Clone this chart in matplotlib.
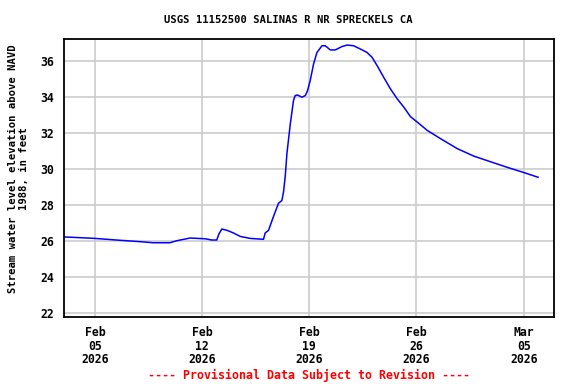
import numpy as np
import pandas as pd
import matplotlib
matplotlib.use("Agg")
import matplotlib.pyplot as plt
import matplotlib.dates as mdates

# dias desde 2026-02-05 00:00 y nivel (ft)
dias = [-1.98, -1.2, 0.0, 1.42, 2.94, 3.79, 4.9, 5.34, 6.21, 7.2, 7.63, 7.96,
        8.1, 8.29, 8.62, 9.05, 9.49, 10.14, 11.01, 11.12, 11.34, 11.66, 11.99,
        12.21, 12.32, 12.43, 12.54, 12.76, 12.97, 13.08, 13.23, 13.52, 13.74,
        13.87, 14.06, 14.28, 14.5, 14.83, 15.05, 15.37, 15.7, 16.14, 16.47,
        16.9, 17.34, 17.77, 18.1, 18.43, 18.86, 19.3, 19.74, 20.17, 20.61,
        21.05, 21.7, 22.57, 23.66, 24.75, 25.84, 26.93, 28.02, 28.94]
nivel = [26.23, 26.2, 26.15, 26.06, 25.97, 25.91, 25.91, 26.02, 26.17, 26.13,
         26.06, 26.06, 26.4, 26.67, 26.6, 26.45, 26.26, 26.15, 26.1, 26.45,
         26.6, 27.36, 28.1, 28.25, 28.74, 29.6, 30.86, 32.5, 33.8, 34.07,
         34.1, 33.98, 34.07, 34.3, 34.9, 35.82, 36.46, 36.83, 36.83, 36.6,
         36.6, 36.79, 36.87, 36.83, 36.65, 36.46, 36.19, 35.73, 35.08, 34.44,
         33.89, 33.43, 32.9, 32.6, 32.14, 31.68, 31.13, 30.71, 30.4, 30.09,
         29.8, 29.54]

ticks_x = ["2026-02-05", "2026-02-12", "2026-02-19", "2026-02-26", "2026-03-05"]
ticks_y = [22, 24, 26, 28, 30, 32, 34, 36]

titulo = "USGS 11152500 SALINAS R NR SPRECKELS CA"
etiqueta_y = "Stream water level elevation above NAVD\n1988, in feet"
aviso = "---- Provisional Data Subject to Revision ----"

fuente = "DejaVu Sans Mono"

fechas = pd.Timestamp("2026-02-05") + pd.to_timedelta(dias, unit="D")

fig = plt.figure(figsize=(5.76, 3.84), dpi=100)
ax = fig.add_axes([0.1116, 0.1753, 0.8507, 0.7224])
ax.plot(fechas, nivel, color="#0000ff", linewidth=1.1)

ax.set_xlim(pd.Timestamp("2026-02-03"), pd.Timestamp("2026-03-07"))
ax.set_ylim(21.81, 37.19)
ax.set_yticks(ticks_y)
ax.set_xticks(pd.to_datetime(ticks_x))
ax.xaxis.set_major_formatter(mdates.DateFormatter("%b\n%d\n%Y"))
ax.grid(True, color="#cccccc", linewidth=1.2)
ax.set_axisbelow(True)
ax.tick_params(length=0, pad=7)
for lab in ax.get_xticklabels() + ax.get_yticklabels():
    lab.set_fontfamily(fuente)
    lab.set_fontweight("bold")
    lab.set_fontsize(8.3)
    lab.set_linespacing(1.02)
for s in ax.spines.values():
    s.set_linewidth(1.3)

fig.text(0.5, 0.949, titulo, ha="center", va="center", fontfamily=fuente,
         fontweight="bold", fontsize=7.6)
fig.text(0.032, 0.56, etiqueta_y, ha="center", va="center", rotation=90,
         fontfamily=fuente, fontweight="bold", fontsize=7.6, linespacing=1.1)
fig.text(0.536, 0.023, aviso, ha="center", va="center", fontfamily=fuente,
         fontweight="bold", fontsize=8.4, color="#ff0000")

fig.savefig("out.png", dpi=100)
